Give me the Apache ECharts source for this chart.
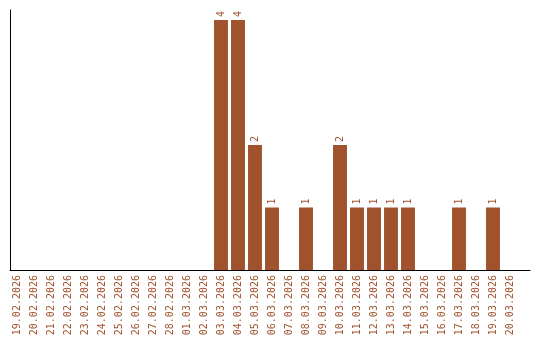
<!DOCTYPE html>
<html><head><meta charset="utf-8">
<script src="https://cdn.jsdelivr.net/npm/echarts@6/dist/echarts.min.js"></script>
<style>html,body{margin:0;padding:0;background:#fff}#c{width:540px;height:340px}</style>
</head><body><div id="c"></div>
<script>
const categories = ["19.02.2026","20.02.2026","21.02.2026","22.02.2026","23.02.2026","24.02.2026","25.02.2026","26.02.2026","27.02.2026","28.02.2026","01.03.2026","02.03.2026","03.03.2026","04.03.2026","05.03.2026","06.03.2026","07.03.2026","08.03.2026","09.03.2026","10.03.2026","11.03.2026","12.03.2026","13.03.2026","14.03.2026","15.03.2026","16.03.2026","17.03.2026","18.03.2026","19.03.2026","20.03.2026"];
const values = [null,null,null,null,null,null,null,null,null,null,null,null,4,4,2,1,null,1,null,2,1,1,1,1,null,null,1,null,1,null];
const yMax = 4.16;

const color = '#A0522D';
const font = '"DejaVu Sans Mono", monospace';
const chart = echarts.init(document.getElementById('c'), null, {renderer:'canvas'});
chart.setOption({
  animation:false,
  grid:[
    {left:8.5, width:510, top:10, bottom:70},
    {left:10, right:10, top:10, bottom:70}
  ],
  xAxis:[
    {type:'category', gridIndex:0, data:categories, boundaryGap:true,
     axisLine:{show:false}, axisTick:{show:false},
     axisLabel:{interval:0, rotate:90, color:color, fontFamily:font, fontSize:10, margin:5}},
    {type:'category', gridIndex:1, data:[], axisLine:{show:true, lineStyle:{color:'#000', width:1}},
     axisTick:{show:false}, axisLabel:{show:false}}
  ],
  yAxis:[
    {type:'value', gridIndex:0, min:0, max:yMax, axisLine:{show:false}, axisTick:{show:false},
     axisLabel:{show:false}, splitLine:{show:false}},
    {type:'value', gridIndex:1, min:0, max:yMax, axisLine:{show:true, lineStyle:{color:'#000', width:1}},
     axisTick:{show:false}, axisLabel:{show:false}, splitLine:{show:false}}
  ],
  series:[{
    type:'bar', xAxisIndex:0, yAxisIndex:0, data:values,
    barCategoryGap:'18%',
    itemStyle:{color:color},
    label:{show:true, position:'top', rotate:90, align:'left', verticalAlign:'middle',
      distance:3, color:color, fontFamily:font, fontSize:10}
  }]
});
</script></body></html>
